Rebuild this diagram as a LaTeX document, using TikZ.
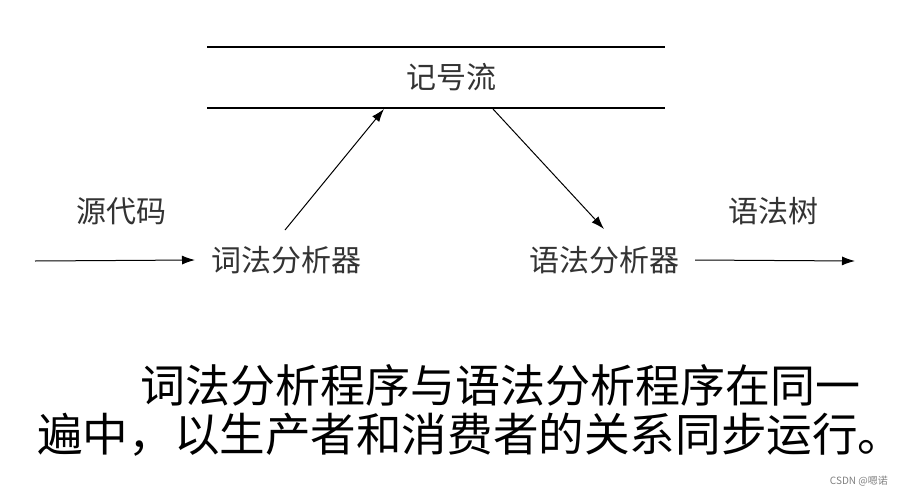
\documentclass[tikz,border=0pt]{standalone}
\usepackage{fontspec}
\setmainfont{Noto Sans CJK SC}
\newfontfamily\cjk{Noto Sans CJK SC}
\usetikzlibrary{arrows.meta}
\definecolor{txt}{HTML}{333333}
\tikzset{
  lbl/.style={inner sep=0pt, text=txt, font=\cjk\fontsize{30}{30}\selectfont},
  big/.style={inner sep=0pt, anchor=west, text=black},
  arr/.style={draw=black, line width=1pt, -{Latex[length=13pt,width=9pt]}},
  hline/.style={draw=black, line width=1.4pt}
}
\begin{document}
\begin{tikzpicture}[x=1pt,y=-1pt]
\useasboundingbox (0,0) rectangle (903,498);
\fill[white] (0,0) rectangle (903,498);
% top stream lines
\coordinate (t1) at (207,47);
\coordinate (t2) at (665,47);
\coordinate (b1) at (207,108);
\coordinate (b2) at (665,108);
\draw[hline] (t1) -- (t2);
\draw[hline] (b1) -- (b2);
\node[lbl] (stream) at (451,77) {记号流};
% labels
\node[lbl] (src) at (121,211) {源代码};
\node[lbl] (lex) at (286,260) {词法分析器};
\node[lbl] (par) at (604,260) {语法分析器};
\node[lbl] (tree) at (773,211) {语法树};
% connectors
\coordinate (in) at (35,261);
\coordinate (out) at (855,261);
\coordinate (up) at (384,109);
\coordinate (down) at (493,109);
\coordinate (lexTop) at (285,230);
\coordinate (parTop) at (604,229);
\draw[arr] (in) -- (lex.west -| 195,261);
\draw[arr] (lexTop) -- (up);
\draw[arr] (down) -- (parTop);
\draw[arr] (par.east -| 695,261) -- (out);
% bottom text
\node[big, font=\cjk\fontsize{45}{45}\selectfont] (l1) at (140,385) {词法分析程序与语法分析程序在同一};
\node[big, font=\cjk\fontsize{45.6}{45.6}\selectfont] (l2) at (37,435) {遍中，以生产者和消费者的关系同步运行。};
% watermark
\node[inner sep=0pt, anchor=east, text=gray, font=\cjk\fontsize{10}{10}\selectfont] (wm) at (888,481) {CSDN @嗯诺};
\end{tikzpicture}
\end{document}
